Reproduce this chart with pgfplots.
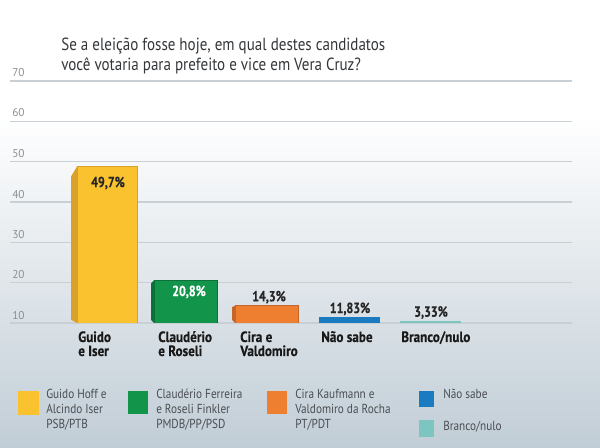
\documentclass[border=0pt]{standalone}
\usepackage{pgfplots}
\pgfplotsset{compat=1.18}
\usepackage{fontspec}
\setmainfont{PT Sans}
\newfontfamily\cond{PT Sans}[FakeStretch=0.855]
\newfontfamily\lcond{PT Sans}[FakeStretch=0.86]
\newfontfamily\condb{PT Sans Bold}[FakeStretch=0.88,FakeBold=0.4]
\newfontfamily\valb{PT Sans Bold}[FakeStretch=0.82,FakeBold=0.4]
\definecolor{cYel}{HTML}{F9C22E}
\definecolor{cYelD}{HTML}{D9A12A}
\definecolor{cGrn}{HTML}{12944A}
\definecolor{cGrnD}{HTML}{0E7039}
\definecolor{cOra}{HTML}{EE7F30}
\definecolor{cOraD}{HTML}{C4652A}
\definecolor{cBlu}{HTML}{1B7BC0}
\definecolor{cTea}{HTML}{7CC5C1}
\definecolor{bgB}{HTML}{C1CDD6}
\definecolor{gridC}{HTML}{C9D0D5}
\definecolor{tickC}{HTML}{8A9095}
\definecolor{txtC}{HTML}{34373A}
\definecolor{legC}{HTML}{4A4E53}
\begin{document}
\begin{tikzpicture}[x=0.75pt,y=0.75pt]
\fill[white] (0,0) rectangle (600,448);
\shade[top color=white, bottom color=bgB] (0,0) rectangle (600,330);
% title
\node[anchor=base west, inner sep=0pt, text=txtC, font=\cond\fontsize{13.2}{15}\selectfont] at (61,397) {Se a eleição fosse hoje, em qual destes candidatos};
\node[anchor=base west, inner sep=0pt, text=txtC, font=\cond\fontsize{13.2}{15}\selectfont] at (61,377) {você votaria para prefeito e vice em Vera Cruz?};
% y tick labels
\foreach \v/\yy in {70/375,60/335,50/294,40/253,30/213,20/173,10/132}{
  \node[anchor=west, inner sep=0pt, text=tickC, font=\fontsize{8.5}{10}\selectfont] at (12,\yy) {\v};
}
\begin{axis}[
  at={(7.5pt,93.75pt)}, anchor=south west,
  width=421.5pt, height=181.5pt, scale only axis,
  xmin=10, xmax=572, ymin=10, ymax=70,
  axis line style={draw=none},
  xtick=\empty, ytick={10,20,...,70}, yticklabels={},
  tick style={draw=none},
  ymajorgrids, major grid style={draw=gridC, line width=0.9pt},
  clip=true,
]
% side faces (3D effect)
\addplot[fill=cYelD, draw=none] coordinates {(71,10.8) (71,46.3) (77,48.8) (77,10)} -- cycle;
\addplot[fill=cGrnD, draw=none] coordinates {(151,10.8) (151,19.8) (154,20.6) (154,10)} -- cycle;
\addplot[fill=cOraD, draw=none] coordinates {(232,10.8) (232,13.9) (235,14.3) (235,10)} -- cycle;
% bars
\addplot[ybar, bar shift=0pt, bar width=45pt, fill=cYel, draw=cYelD, line width=0.4pt] coordinates {(107,48.8)};
\addplot[ybar, bar shift=0pt, bar width=47pt, fill=cGrn, draw=cGrnD, line width=0.4pt] coordinates {(185.5,20.6)};
\addplot[ybar, bar shift=0pt, bar width=47pt, fill=cOra, draw=cOraD, line width=0.4pt] coordinates {(266.5,14.5)};
\addplot[ybar, bar shift=0pt, bar width=46pt, fill=cBlu, draw=none] coordinates {(349.5,11.5)};
\addplot[ybar, bar shift=0pt, bar width=46pt, fill=cTea, draw=none] coordinates {(430.5,10.4)};
% value labels
\node[font=\valb\fontsize{11}{13}\selectfont, text=black!85] at (axis cs:108,44.7) {49,7\%};
\node[font=\valb\fontsize{11}{13}\selectfont, text=white] at (axis cs:189,17.7) {20,8\%};
\node[font=\valb\fontsize{11}{13}\selectfont, text=black!85] at (axis cs:269,16.4) {14,3\%};
\node[font=\valb\fontsize{11}{13}\selectfont, text=black!85] at (axis cs:350,13.5) {11,83\%};
\node[font=\valb\fontsize{11}{13}\selectfont, text=black!85] at (axis cs:431,12.6) {3,33\%};
\end{axis}
% category labels
\foreach \xx/\la/\lb in {78/Guido/e Iser,158/Claudério/e Roseli,240/Cira e/Valdomiro,321/Não sabe/{},401/{Branco/nulo}/{}}{
  \node[anchor=base west, inner sep=0pt, font=\condb\fontsize{11.2}{12}\selectfont, text=black!90] at (\xx,106) {\la};
  \node[anchor=base west, inner sep=0pt, font=\condb\fontsize{11.2}{12}\selectfont, text=black!90] at (\xx,92) {\lb};
}
% legend
\fill[cYel] (18,33) rectangle (39,57);
\fill[cGrn] (128,34) rectangle (148,57);
\fill[cOra] (267,34) rectangle (287,57);
\fill[cBlu] (419,41) rectangle (434,57);
\fill[cTea] (419,11) rectangle (434,28);
\begin{scope}[every node/.style={anchor=base west, inner sep=0pt, text=legC, font=\lcond\fontsize{9.8}{11}\selectfont}]
\node at (46,49) {Guido Hoff e};
\node at (46,34) {Alcindo Iser};
\node at (46,19) {PSB/PTB};
\node at (156,49) {Claudério Ferreira};
\node at (156,34) {e Roseli Finkler};
\node at (156,19) {PMDB/PP/PSD};
\node at (295,49) {Cira Kaufmann e};
\node at (295,34) {Valdomiro da Rocha};
\node at (295,19) {PT/PDT};
\node at (443,49) {Não sabe};
\node at (443,17) {Branco/nulo};
\end{scope}
\end{tikzpicture}
\end{document}
